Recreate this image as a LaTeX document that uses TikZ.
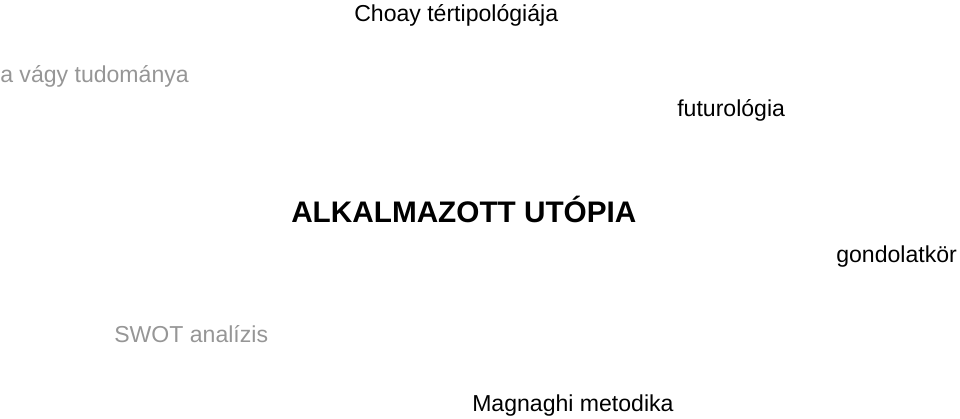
\documentclass[tikz,border=0pt]{standalone}
\usepackage{fontspec}
\setmainfont{Liberation Sans}
\definecolor{halvany}{RGB}{150,150,150}

\begin{document}
\begin{tikzpicture}[x=0.75pt,y=-0.75pt,
    cimke/.style={inner sep=0pt, anchor=base west, font=\fontsize{17.3}{20}\selectfont},
    halvanycimke/.style={cimke, text=halvany},
    focim/.style={inner sep=0pt, anchor=base west, font=\fontsize{22.3}{26}\selectfont\bfseries}]
    \useasboundingbox (0,0) rectangle (960,418);%keret
    \node[cimke] (choay) at (354,21) {Choay tértipológiája};
    \node[halvanycimke] (vagy) at (0,82) {a vágy tudománya};
    \node[cimke] (futuro) at (677,116) {futurológia};
    \node[focim] (utopia) at (291,222) {ALKALMAZOTT UTÓPIA};
    \node[cimke] (gondolat) at (836,262) {gondolatkör};
    \node[halvanycimke] (swot) at (114,342) {SWOT analízis};
    \node[cimke] (magnaghi) at (472,411) {Magnaghi metodika};
\end{tikzpicture}
\end{document}
